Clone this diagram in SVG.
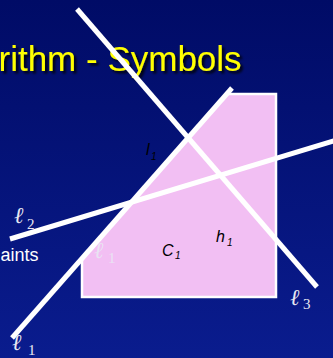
<svg xmlns="http://www.w3.org/2000/svg" width="333" height="358" viewBox="0 0 333 358">
<defs>
<linearGradient id="bg" x1="0" y1="0" x2="0" y2="1">
<stop offset="0" stop-color="#000b66"/>
<stop offset="1" stop-color="#0a1c8e"/>
</linearGradient>
<filter id="shadow" x="-5%" y="-20%" width="115%" height="150%">
<feDropShadow dx="2.5" dy="2.5" stdDeviation="1" flood-color="#000000" flood-opacity="0.85"/>
</filter>
</defs>
<style>
.line{stroke:#ffffff;stroke-width:5;fill:none}
.ell{font-family:"DejaVu Serif","Liberation Serif",serif;font-style:italic;fill:#e8e8f2}
.sub{font-family:"Liberation Serif","DejaVu Serif",serif;fill:#e8e8f2}
.lab{font-family:"Liberation Sans",Arial,sans-serif;font-style:italic;fill:#000000}
</style>
<rect width="333" height="358" fill="url(#bg)"/>
<g id="title">
<text x="-1.5" y="71" font-family="Liberation Sans,Arial,sans-serif" font-size="35" fill="#ffff00" filter="url(#shadow)">rithm - Symbols</text>
</g>
<g id="region">
<polygon points="227,94 276,94 276,297 82,297 82,258.5" fill="#f2bff3" stroke="#ffffff" stroke-width="2.5"/>
</g>
<g id="connectors">
<line class="line" x1="77" y1="9" x2="317" y2="287"/>
<line class="line" x1="12" y1="338" x2="232" y2="88"/>
<line class="line" x1="10" y1="239" x2="340" y2="139"/>
</g>
<g id="text-constraints">
<text x="0.5" y="261" font-family="Liberation Sans,Arial,sans-serif" font-size="18" fill="#ffffff">aints</text>
</g>
<g id="label-l2"><text class="ell" x="14" y="223" font-size="23">ℓ</text><text class="sub" x="27" y="229" font-size="15">2</text></g>
<g id="label-l1-bottom"><text class="ell" x="12" y="350" font-size="23">ℓ</text><text class="sub" x="28" y="355" font-size="15">1</text></g>
<g id="label-l1-inside"><text class="ell" x="94" y="258" font-size="23" opacity="0.9">ℓ</text><text class="sub" x="108" y="263" font-size="15" opacity="0.9">1</text></g>
<g id="label-l3"><text class="ell" x="290" y="305" font-size="23">ℓ</text><text class="sub" x="303" y="309" font-size="15">3</text></g>
<g id="label-I1"><text class="lab" x="146" y="155" font-size="16">l</text><text class="lab" x="151" y="160" font-size="10">1</text></g>
<g id="label-C1"><text class="lab" x="162" y="256" font-size="16">C</text><text class="lab" x="175" y="259" font-size="10">1</text></g>
<g id="label-h1"><text class="lab" x="216" y="242" font-size="16">h</text><text class="lab" x="227" y="246" font-size="10">1</text></g>
</svg>
